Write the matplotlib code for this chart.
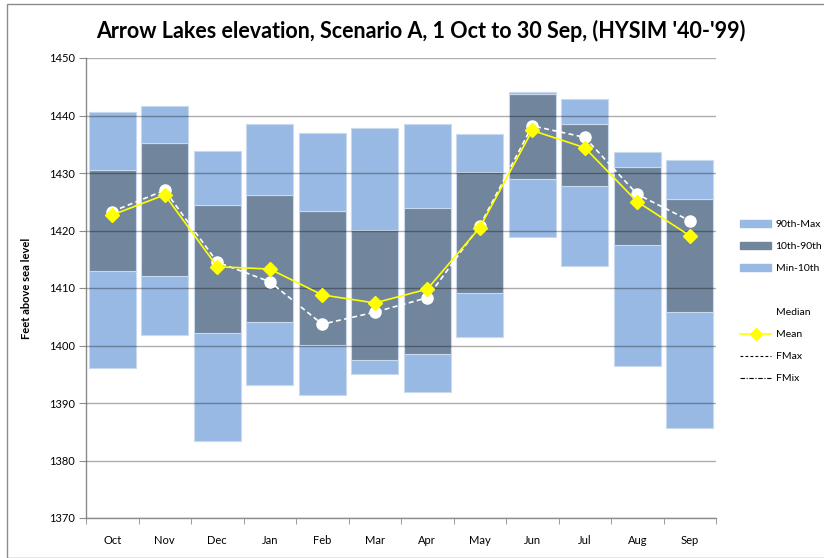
import matplotlib
matplotlib.use("Agg")
import matplotlib.pyplot as plt
import numpy as np
from matplotlib.patches import Patch, Rectangle
from matplotlib.lines import Line2D

months = ["Oct", "Nov", "Dec", "Jan", "Feb", "Mar", "Apr", "May", "Jun", "Jul", "Aug", "Sep"]
vmin = [1396.1, 1401.8, 1383.4, 1393.1, 1391.4, 1395.0, 1392.0, 1401.5, 1418.9, 1413.9, 1396.5, 1385.6]
p10 = [1413.0, 1412.1, 1402.2, 1404.1, 1400.1, 1397.4, 1398.6, 1409.1, 1428.9, 1427.7, 1417.4, 1405.8]
p90 = [1430.5, 1435.3, 1424.4, 1426.2, 1423.4, 1420.1, 1424.0, 1430.1, 1443.8, 1438.6, 1431.0, 1425.4]
vmax = [1440.6, 1441.7, 1433.8, 1438.5, 1436.9, 1437.8, 1438.5, 1436.8, 1444.0, 1442.8, 1433.6, 1432.3]
mean = [1422.7, 1426.2, 1413.7, 1413.3, 1408.8, 1407.4, 1409.8, 1420.5, 1437.4, 1434.4, 1425.0, 1419.1]
median = [1423.3, 1427.0, 1414.5, 1411.1, 1403.7, 1405.8, 1408.3, 1420.8, 1438.2, 1436.2, 1426.3, 1421.7]

light = "#98b9e3"
dark = "#71869d"
edge = "#c9d9ee"

plt.rcParams['font.family'] = ['Lato', 'DejaVu Sans']

fig = plt.figure(figsize=(8.24, 5.58), dpi=100)
ax = fig.add_axes([86/824, 1 - 518/558, 630/824, 460/558])

x = np.arange(len(months))
w = 0.9
vmin_a = np.array(vmin); p10_a = np.array(p10); p90_a = np.array(p90); vmax_a = np.array(vmax)
ax.bar(x, p10_a - vmin_a, w, bottom=vmin_a, color=light, edgecolor=edge, linewidth=0.8, zorder=2)
ax.bar(x, p90_a - p10_a, w, bottom=p10_a, color=dark, edgecolor=edge, linewidth=0.8, zorder=2)
ax.bar(x, vmax_a - p90_a, w, bottom=p90_a, color=light, edgecolor=edge, linewidth=0.8, zorder=2)

ax.plot(x, median, color="white", linestyle=(0, (3, 2)), linewidth=1.2,
        marker="o", markersize=8, markerfacecolor="white", markeredgecolor="white", zorder=4)
ax.plot(x, mean, color="#ffff00", linewidth=1.2, marker="D", markersize=7,
        markerfacecolor="#ffff00", markeredgecolor="#ffff00", zorder=5)

ax.set_ylim(1370, 1450)
ax.set_xlim(-0.5, len(months) - 0.5)
ax.set_yticks(np.arange(1370, 1451, 10))
ax.yaxis.grid(True, color="black", alpha=0.32, linewidth=1.0, zorder=3)
ax.set_axisbelow(False)
for gl in ax.get_ygridlines():
    gl.set_zorder(3)
ax.set_xticks(x)
ax.set_xticklabels(months, fontsize=8)
ax.set_xticks(np.arange(-0.5, len(months), 1), minor=True)
ax.tick_params(axis="x", which="major", length=0, pad=12)
ax.tick_params(axis="x", which="minor", length=4, color="#8c8c8c", direction="out")
ax.tick_params(axis="y", labelsize=8, length=5, color="#8c8c8c", direction="out", pad=3)
for s in ["top", "right"]:
    ax.spines[s].set_visible(False)
for s in ["left", "bottom"]:
    ax.spines[s].set_color("#8c8c8c")
    ax.spines[s].set_linewidth(1.0)

ax.set_ylabel("Feet above sea level", fontsize=8, fontweight="bold", labelpad=12)
fig.text(0.511, 0.945, "Arrow Lakes elevation, Scenario A, 1 Oct to 30 Sep, (HYSIM '40-'99)",
         ha="center", va="center", fontsize=15.5, fontweight="bold")

handles = [
    Patch(facecolor=light, edgecolor=light),
    Patch(facecolor=dark, edgecolor=dark),
    Patch(facecolor=light, edgecolor=light),
    Line2D([], [], color="none"),
    Line2D([], [], color="white", linestyle="--"),
    Line2D([], [], color="#ffff00", marker="D", markersize=6, linewidth=1.2),
    Line2D([], [], color="black", linestyle=(0, (2.5, 2)), linewidth=0.8),
    Line2D([], [], color="black", linestyle=(0, (4, 1.5, 1, 1.5)), linewidth=0.8),
]
labels = ["90th-Max", "10th-90th", "Min-10th", "", "Median", "Mean", "FMax", "FMix"]
fig.legend(handles, labels, loc="upper left", bbox_to_anchor=(736/824, 1 - 216/558),
           frameon=False, fontsize=7.5, handlelength=3.0, handleheight=0.6, labelspacing=1.25,
           handletextpad=0.4, borderaxespad=0)

fig.add_artist(Rectangle((7/824, 0), 1, 1 - 4/558, transform=fig.transFigure,
                         fill=False, edgecolor="#8c8c8c", linewidth=1.0))

fig.savefig("out.png", dpi=100)
